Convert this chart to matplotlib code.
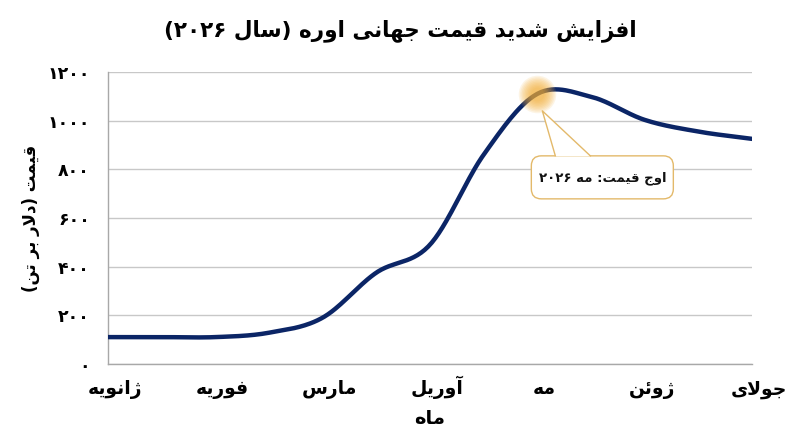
import re
import numpy as np
import matplotlib
matplotlib.use("Agg")
import matplotlib.pyplot as plt
import matplotlib.transforms as mtransforms
from matplotlib.patches import FancyBboxPatch, Polygon
from matplotlib.ticker import FuncFormatter

# data (half-month steps, 0 = Jan ... 6 = Jul)
month_pos = [0, 0.5, 1, 1.5, 2, 2.5, 3, 3.5, 4, 4.5, 5, 5.5, 6]
price = [110, 110, 110, 128, 190, 375, 490, 860, 1110, 1098, 1003, 955, 925]
month_names = ["ژانویه", "فوریه", "مارس", "آوریل", "مه", "ژوئن", "جولای"]
peak_index = 8

title = "افزایش شدید قیمت جهانی اوره (سال ۲۰۲۶)"
ylabel = "قیمت (دلار بر تن)"
xlabel = "ماه"
peak_note = "اوج قیمت: مه ۲۰۲۶"

# --- tiny arabic shaping + rtl ordering, matplotlib has none ---
FORMS = {
    "ا": ("\uFE8D", "\uFE8E"), "آ": ("\uFE81", "\uFE82"),
    "د": ("\uFEA9", "\uFEAA"), "ر": ("\uFEAD", "\uFEAE"),
    "ز": ("\uFEAF", "\uFEB0"), "ژ": ("\uFB8A", "\uFB8B"),
    "و": ("\uFEED", "\uFEEE"),
    "ب": ("\uFE8F", "\uFE90", "\uFE91", "\uFE92"),
    "ت": ("\uFE95", "\uFE96", "\uFE97", "\uFE98"),
    "ج": ("\uFE9D", "\uFE9E", "\uFE9F", "\uFEA0"),
    "س": ("\uFEB1", "\uFEB2", "\uFEB3", "\uFEB4"),
    "ش": ("\uFEB5", "\uFEB6", "\uFEB7", "\uFEB8"),
    "ف": ("\uFED1", "\uFED2", "\uFED3", "\uFED4"),
    "ق": ("\uFED5", "\uFED6", "\uFED7", "\uFED8"),
    "ل": ("\uFEDD", "\uFEDE", "\uFEDF", "\uFEE0"),
    "م": ("\uFEE1", "\uFEE2", "\uFEE3", "\uFEE4"),
    "ن": ("\uFEE5", "\uFEE6", "\uFEE7", "\uFEE8"),
    "ه": ("\uFEE9", "\uFEEA", "\uFEEB", "\uFEEC"),
    "ی": ("\uFBFC", "\uFBFD", "\uFBFE", "\uFBFF"),
    "ئ": ("\uFE89", "\uFE8A", "\uFE8B", "\uFE8C"),
}
LAM_ALEF = {"ا": ("\uFEFB", "\uFEFC"), "آ": ("\uFEF5", "\uFEF6")}


def dual(c):
    return c in FORMS and len(FORMS[c]) == 4


def fa(text):
    out = []
    i = 0
    while i < len(text):
        c = text[i]
        if c not in FORMS:
            out.append(c)
            i += 1
            continue
        link_prev = i > 0 and dual(text[i - 1])
        if c == "ل" and i + 1 < len(text) and text[i + 1] in LAM_ALEF:
            out.append(LAM_ALEF[text[i + 1]][1 if link_prev else 0])
            i += 2
            continue
        link_next = dual(c) and i + 1 < len(text) and text[i + 1] in FORMS
        f = FORMS[c]
        if link_prev and link_next:
            out.append(f[3])
        elif link_prev:
            out.append(f[1])
        elif link_next:
            out.append(f[2])
        else:
            out.append(f[0])
        i += 1
    tokens = re.findall(r"[0-9۰-۹]+|.", "".join(out))
    mirror = {"(": ")", ")": "("}
    return "".join(mirror.get(t, t) for t in tokens[::-1])


def fa_digits(v, pos=None):
    return fa(str(int(v)).translate(str.maketrans("0123456789", "۰۱۲۳۴۵۶۷۸۹")))


# smooth curve through the read points (catmull-rom)
def smooth(x, y, steps=30):
    x = np.asarray(x, float)
    y = np.asarray(y, float)
    px = np.concatenate([[2 * x[0] - x[1]], x, [2 * x[-1] - x[-2]]])
    py = np.concatenate([[y[0]], y, [2 * y[-1] - y[-2]]])
    xs, ys = [], []
    for k in range(1, len(px) - 2):
        t = np.linspace(0, 1, steps, endpoint=False)
        m0 = (py[k + 1] - py[k - 1]) / 2
        m1 = (py[k + 2] - py[k]) / 2
        h00 = 2 * t**3 - 3 * t**2 + 1
        h10 = t**3 - 2 * t**2 + t
        h01 = -2 * t**3 + 3 * t**2
        h11 = t**3 - t**2
        xs.append(px[k] + t * (px[k + 1] - px[k]))
        ys.append(h00 * py[k] + h10 * m0 + h01 * py[k + 1] + h11 * m1)
    xs.append([x[-1]])
    ys.append([y[-1]])
    return np.concatenate(xs), np.concatenate(ys)


plt.rcParams["font.family"] = ["DejaVu Sans"]

navy = "#0B2566"
gold = "#E3B96A"

fig = plt.figure(figsize=(8, 4.47), dpi=100)
ax = fig.add_axes([0.135, 0.186, 0.805, 0.653])

sx, sy = smooth(month_pos, price)
ax.plot(sx, sy, color=navy, lw=3.2, solid_capstyle="round", zorder=3)

# glow on the peak
px, py = month_pos[peak_index], price[peak_index]
for r in np.linspace(27, 10, 9):
    ax.scatter(px, py, s=r**2, color="#F4AE35", alpha=0.13, lw=0, zorder=4)

# callout box, laid out in inches relative to the peak point
ctr = fig.dpi_scale_trans + mtransforms.ScaledTranslation(px, py, ax.transData)
box = FancyBboxPatch((-0.06, -1.05), 1.42, 0.43, boxstyle="round,pad=0,rounding_size=0.1",
                     fc="white", ec=gold, lw=1, transform=ctr, zorder=5, clip_on=False)
ax.add_patch(box)
wedge = Polygon([(0.05, -0.17), (0.18, -0.625), (0.53, -0.625)], closed=True,
                fc="white", ec="none", transform=ctr, zorder=6, clip_on=False)
ax.add_patch(wedge)
ax.plot([0.18, 0.05, 0.53], [-0.62, -0.17, -0.62], color=gold, lw=1,
        transform=ctr, zorder=6, clip_on=False)
ax.text(0.65, -0.845, fa(peak_note), transform=ctr, ha="center", va="center",
        fontsize=9.5, fontweight="bold", color="#111111", zorder=7)

ax.set_xlim(0, 6)
ax.set_ylim(0, 1200)
ax.set_yticks(range(0, 1201, 200))
ax.yaxis.set_major_formatter(FuncFormatter(fa_digits))
ax.set_xticks(range(len(month_names)))
ax.set_xticklabels([fa(m) for m in month_names])
ax.tick_params(axis="x", length=0, labelsize=13.5, pad=22)
ax.tick_params(axis="y", length=0, labelsize=12.5, pad=13)
shift = mtransforms.ScaledTranslation(0.07, 0, fig.dpi_scale_trans)
for lab in ax.get_xticklabels():
    lab.set_fontweight("bold")
    lab.set_verticalalignment("baseline")
    lab.set_transform(lab.get_transform() + shift)
for lab in ax.get_yticklabels():
    lab.set_fontweight("bold")

ax.grid(axis="y", color="#C8C8C8", lw=1)
ax.set_axisbelow(True)
for side in ["top", "right"]:
    ax.spines[side].set_visible(False)
for side in ["left", "bottom"]:
    ax.spines[side].set_color("#A8A8A8")
    ax.spines[side].set_linewidth(1)

ax.set_xlabel(fa(xlabel), fontsize=14, fontweight="bold", labelpad=7)
ax.set_ylabel(fa(ylabel), fontsize=12, fontweight="bold", labelpad=5)
fig.suptitle(fa(title), x=0.5, y=0.958, fontsize=15.5, fontweight="bold")

fig.savefig("out.png", dpi=100)
